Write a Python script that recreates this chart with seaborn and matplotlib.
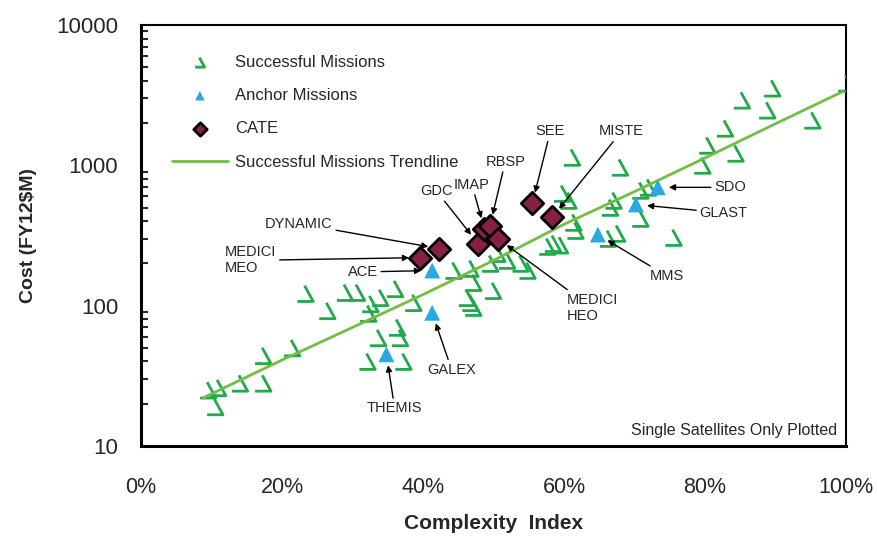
import numpy as np
import pandas as pd
import matplotlib
matplotlib.use("Agg")
import matplotlib.pyplot as plt
from matplotlib.path import Path
from matplotlib.ticker import FuncFormatter, LogLocator, NullFormatter
import seaborn as sns

# ==========================
# DATA (complexity index in %, cost in FY12$M)
# ==========================

success_x = [9.5, 10.9, 10.5, 14.0, 17.3, 17.3, 21.4, 23.3, 26.4, 28.9,
             30.6, 32.5, 32.2, 33.9, 36.0, 33.6, 36.3, 36.7, 32.1, 37.2,
             38.6, 44.3, 46.7, 47.1, 46.2, 47.1, 46.7, 49.5, 49.9, 50.5,
             51.9, 53.8, 54.8, 61.1, 67.9, 59.7, 60.6, 61.6, 61.3, 58.4,
             59.4, 57.6, 67.0, 67.5, 66.2, 70.8, 70.8, 75.5, 79.6, 80.3,
             82.8, 84.3, 85.2, 88.8, 89.5, 95.2, 100.0, 71.9, 66.5]
success_y = [25, 26, 19, 28, 28, 44, 50, 122, 92, 124,
             124, 103, 88, 114, 132, 59, 70, 59, 40, 40,
             105, 178, 184, 146, 114, 97, 105, 200, 128, 235,
             210, 200, 178, 1140, 968, 631, 562, 343, 392, 277,
             270, 264, 562, 327, 301, 418, 663, 306, 1000, 1389,
             1837, 1218, 2913, 2472, 3548, 2096, 3850, 697, 501]

anchor_names = ["THEMIS", "GALEX", "ACE", "MMS", "GLAST", "SDO"]
anchor_x = [34.8, 41.3, 41.3, 64.8, 70.2, 73.3]
anchor_y = [45, 89, 178, 321, 526, 697]

cate_names = ["MEDICI\nMEO", "DYNAMIC", "GDC", "IMAP", "RBSP",
              "MEDICI\nHEO", "SEE", "MISTE"]
cate_x = [39.6, 42.3, 47.8, 48.7, 49.5, 50.6, 55.5, 58.3]
cate_y = [220, 255, 277, 352, 372, 301, 535, 425]

trend_x = [8.8, 20, 30, 40, 50, 60, 70, 80, 90, 99.5]
trend_y = [22, 41, 70, 120, 210, 380, 650, 1130, 1980, 3350]

# label offsets in points (dx, dy) from each marker
anchor_offsets = [(6, -39), (14, -41), (-50, -1), (50, -30), (63, -6), (52, 0)]
cate_offsets = [(-122, -2), (-101, 18), (-30, 38), (-9, 32), (11, 46),
                (68, -50), (13, 52), (50, 62)]

success_df = pd.DataFrame({"x": success_x, "y": success_y})
anchor_df = pd.DataFrame({"x": anchor_x, "y": anchor_y})
cate_df = pd.DataFrame({"x": cate_x, "y": cate_y})
trend_df = pd.DataFrame({"x": trend_x, "y": trend_y})

# ==========================
# STYLE
# ==========================

sns.set_style("white")
plt.rcParams["font.family"] = ["Liberation Sans", "DejaVu Sans"]

green = "#22A94A"
trend_green = "#72BE44"
blue = "#29A9E1"
maroon = "#862046"

# "mirrored angle" marker used for the successful missions
check_marker = Path([(-0.05, 0.5), (0.5, -0.5), (-0.5, -0.5)],
                    [Path.MOVETO, Path.LINETO, Path.LINETO])

fig, ax = plt.subplots(figsize=(8.77, 5.37), dpi=100)
fig.subplots_adjust(left=0.1608, right=0.9647, top=0.9534, bottom=0.1695)

# ==========================
# PLOT
# ==========================

sns.scatterplot(
    data=success_df, x="x", y="y",
    marker=check_marker, s=130,
    facecolors="none", edgecolor=green, linewidth=2.0,
    ax=ax, zorder=3, label="Successful Missions"
)

sns.lineplot(
    data=trend_df, x="x", y="y",
    color=trend_green, linewidth=2.0, sort=False, estimator=None,
    ax=ax, zorder=4, label="Successful Missions Trendline"
)

sns.scatterplot(
    data=anchor_df, x="x", y="y",
    marker="^", s=130, color=blue, edgecolor="none",
    ax=ax, zorder=5, label="Anchor Missions"
)

sns.scatterplot(
    data=cate_df, x="x", y="y",
    marker="D", s=130, color=maroon, edgecolor="black", linewidth=2.0,
    ax=ax, zorder=6, label="CATE"
)

ax.set_yscale("log")
ax.set_xlim(0, 100)
ax.set_ylim(10, 10000)

# annotations
arrow = dict(arrowstyle="-|>", color="black", lw=1.0,
             mutation_scale=9, shrinkA=0, shrinkB=8)

for name, x, y, off in zip(anchor_names, anchor_x, anchor_y, anchor_offsets):
    ax.annotate(name, xy=(x, y), xytext=off, textcoords="offset points",
                ha="center", va="center", fontsize=10.5,
                arrowprops=arrow, zorder=7)

for name, x, y, off in zip(cate_names, cate_x, cate_y, cate_offsets):
    ax.annotate(name, xy=(x, y), xytext=off, textcoords="offset points",
                ha="center", va="center", fontsize=10.5,
                multialignment="left", linespacing=1.2,
                arrowprops=arrow, zorder=7)

ax.text(0.988, 0.036, "Single Satellites Only Plotted",
        transform=ax.transAxes, ha="right", va="center", fontsize=11.5)

# ==========================
# AXES
# ==========================

ax.xaxis.set_major_locator(plt.MultipleLocator(20))
ax.xaxis.set_major_formatter(FuncFormatter(lambda v, p: f"{v:.0f}%"))
ax.yaxis.set_major_locator(LogLocator(base=10))
ax.yaxis.set_major_formatter(FuncFormatter(lambda v, p: f"{v:.0f}"))
ax.yaxis.set_minor_locator(LogLocator(base=10, subs=np.arange(2, 10)))
ax.yaxis.set_minor_formatter(NullFormatter())

ax.tick_params(axis="y", which="major", direction="inout", length=9,
               width=1.8, labelsize=16, pad=12)
ax.tick_params(axis="y", which="minor", direction="in", length=5,
               width=1.5, left=True)
ax.tick_params(axis="x", which="major", direction="out", length=5,
               width=1.5, pad=17, labelsize=15.5)

for side in ["left", "bottom"]:
    ax.spines[side].set_linewidth(2.2)
for side in ["top", "right"]:
    ax.spines[side].set_linewidth(1.5)
for s in ax.spines.values():
    s.set_color("black")

ax.set_xlabel("Complexity  Index", fontsize=15, fontweight="bold",
              labelpad=12)
ax.set_ylabel("Cost (FY12$M)", fontsize=14, fontweight="bold", labelpad=14)

# legend in the order of the original
h, l = ax.get_legend_handles_labels()
order = ["Successful Missions", "Anchor Missions", "CATE",
         "Successful Missions Trendline"]
handles = [h[l.index(o)] for o in order]
ax.legend(handles, order, loc="upper left", bbox_to_anchor=(0.022, 0.965),
          frameon=False, fontsize=12, handlelength=3.4, handletextpad=0.4,
          labelspacing=1.1, markerscale=0.6)

plt.savefig("out.png", dpi=100)
plt.close()
